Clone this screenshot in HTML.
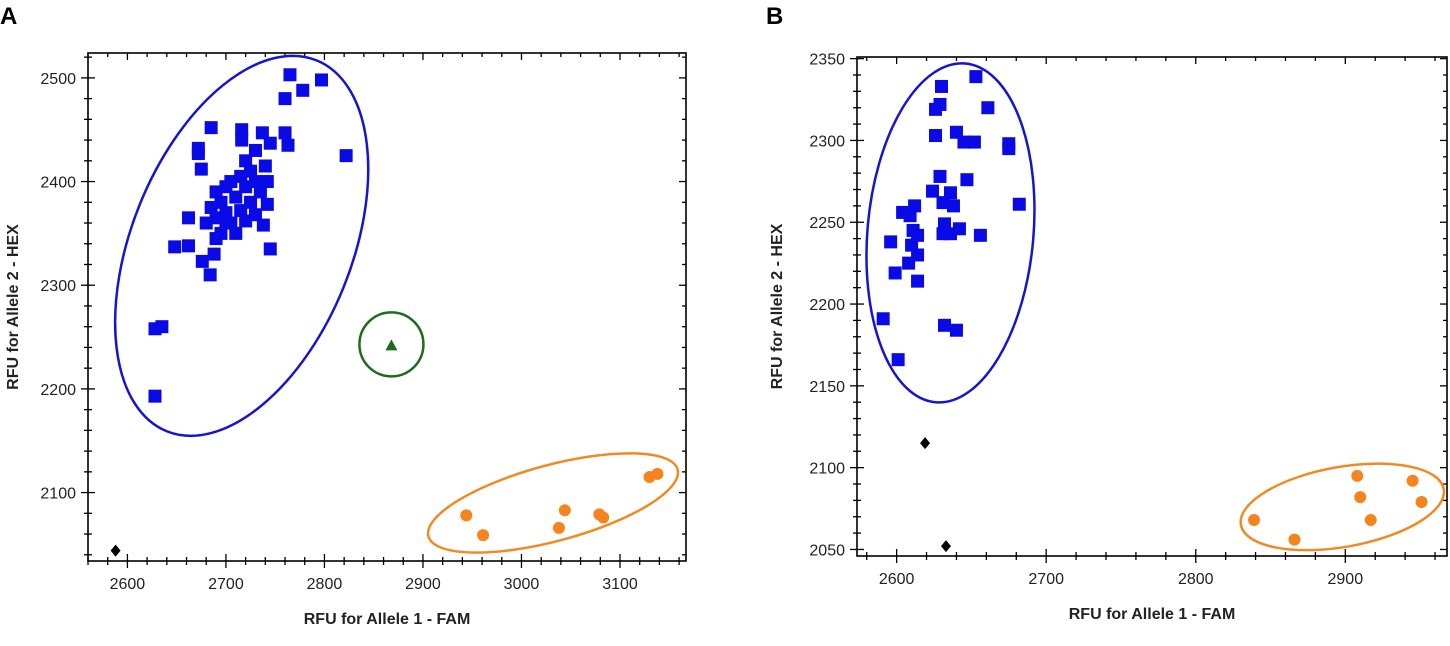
<!DOCTYPE html>
<html><head><meta charset="utf-8"><style>
body{margin:0;background:#fff;width:1450px;height:646px;overflow:hidden}
svg{display:block;font-family:"Liberation Sans",sans-serif}
</style></head><body>
<svg id="c" width="1450" height="646">
<text x="0" y="24" font-size="24" font-weight="bold">A</text>
<text x="766" y="24" font-size="24" font-weight="bold">B</text>
</svg>
<script>
// Panel A data
const aBlueX=[2765,2797,2778,2760,2685,2716,2737,2760,2672,2672,2763,2745,2822,2675,2716,2730,2720,2740,2725,2705,2715,2730,2742,2700,2690,2720,2735,2695,2710,2725,2742,2685,2700,2715,2730,2690,2705,2720,2738,2662,2680,2745,2648,2662,2690,2695,2688,2676,2684,2628,2635,2628,2700,2710];
const aBlueY=[2503,2498,2488,2480,2452,2450,2447,2447,2432,2427,2435,2437,2425,2412,2440,2430,2420,2415,2410,2400,2405,2400,2400,2395,2390,2395,2390,2380,2385,2380,2378,2375,2370,2372,2368,2365,2360,2362,2358,2365,2360,2335,2337,2338,2345,2350,2330,2323,2310,2258,2260,2193,2360,2350];
const aOrangeX=[2944,2961,3038,3044,3079,3083,3130,3138];
const aOrangeY=[2078,2059,2066,2083,2079,2076,2115,2118];
const aGreenX=[2868];const aGreenY=[2242];
const aBlackX=[2588];const aBlackY=[2044];
const aXTicks=[2600,2700,2800,2900,3000,3100];
const aYTicks=[2100,2200,2300,2400,2500];
// Panel B data
const bBlueX=[2653,2630,2629,2626,2661,2626,2640,2645,2652,2675,2675,2629,2647,2624,2636,2631,2638,2682,2604,2612,2609,2611,2614,2632,2631,2636,2642,2656,2596,2610,2614,2608,2599,2614,2591,2632,2640,2601];
const bBlueY=[2339,2333,2322,2319,2320,2303,2305,2299,2299,2298,2295,2278,2276,2269,2268,2262,2260,2261,2256,2260,2254,2245,2242,2249,2243,2243,2246,2242,2238,2236,2230,2225,2219,2214,2191,2187,2184,2166];
const bOrangeX=[2839,2866,2908,2910,2917,2945,2951];
const bOrangeY=[2068,2056,2095,2082,2068,2092,2079];
const bBlackX=[2619,2633];const bBlackY=[2115,2052];
const bXTicks=[2600,2700,2800,2900];
const bYTicks=[2050,2100,2150,2200,2250,2300,2350];

const NS="http://www.w3.org/2000/svg";
const svg=document.getElementById('c');
function mk(tag,attrs,parent){const e=document.createElementNS(NS,tag);for(const k in attrs)e.setAttribute(k,attrs[k]);(parent||svg).appendChild(e);return e;}

function panel(p){
  const g=mk('g',{});
  
  
  const sx=v=>p.L+(v-p.x0)/(p.x1-p.x0)*(p.R-p.L);
  const sy=v=>p.B-(v-p.y0)/(p.y1-p.y0)*(p.B-p.T);
  for(let v=Math.ceil(p.x0/p.xm)*p.xm;v<=p.x1;v+=p.xm){
    const major=v%p.xstep===0;const x=sx(v);const l=major?7:4;
    mk('line',{x1:x,x2:x,y1:p.B-l,y2:p.B+l,stroke:'#000','stroke-width':1.3},g);
    mk('line',{x1:x,x2:x,y1:p.T,y2:p.T+l,stroke:'#000','stroke-width':1.3},g);
  }
  for(let v=Math.ceil(p.y0/p.ym)*p.ym;v<=p.y1;v+=p.ym){
    const major=v%p.ystep===0;const y=sy(v);const l=major?7:4;
    mk('line',{x1:p.L-l,x2:p.L+l,y1:y,y2:y,stroke:'#000','stroke-width':1.3},g);
    mk('line',{x1:p.R-l,x2:p.R,y1:y,y2:y,stroke:'#000','stroke-width':1.3},g);
  }
  const fr=mk('rect',{x:p.L,y:p.T,width:p.R-p.L,height:p.B-p.T,fill:'none',stroke:'#000','stroke-width':1.6},g);
  
  
  p.xt.forEach(v=>{const t=mk('text',{x:sx(v),y:p.B+28,'font-size':16,fill:'#222','text-anchor':'middle'},g);t.textContent=v;
    
    });
  p.yt.forEach(v=>{const t=mk('text',{x:p.L-12,y:sy(v)+6,'font-size':16,fill:'#222','text-anchor':'end'},g);t.textContent=v;
    
    });
  const xt=mk('text',{x:(p.L+p.R)/2,y:p.B+63,'font-size':16,'font-weight':'bold',fill:'#222','text-anchor':'middle'},g);
  xt.textContent='RFU for Allele 1 - FAM';
  
  
  const yt=mk('text',{x:0,y:0,'font-size':16,'font-weight':'bold',fill:'#222','text-anchor':'middle',transform:`translate(${p.ytx},${(p.T+p.B)/2}) rotate(-90)`},g);
  yt.textContent='RFU for Allele 2 - HEX';
  
  
  p.ell.forEach(e=>{const el=mk('ellipse',{cx:sx(e.cx),cy:sy(e.cy),rx:e.rx,ry:e.ry,fill:'none',stroke:e.c,'stroke-width':2.5,transform:`rotate(${e.rot} ${sx(e.cx)} ${sy(e.cy)})`},g);
    
    });
  p.blueX.forEach((v,i)=>{const r=mk('rect',{x:sx(v)-6.5,y:sy(p.blueY[i])-6.5,width:13,height:13,fill:'#0a0ae6'},g);
    
    });
  p.orX.forEach((v,i)=>{const c=mk('circle',{cx:sx(v),cy:sy(p.orY[i]),r:6,fill:'#f5841f'},g);
    
    });
  p.bkX.forEach((v,i)=>{const x=sx(v),y=sy(p.bkY[i]);const d=mk('polygon',{points:`${x},${y-6} ${x+5},${y} ${x},${y+6} ${x-5},${y}`,fill:'#000'},g);
    
    });
  (p.grX||[]).forEach((v,i)=>{const x=sx(v),y=sy(p.grY[i]);const t=mk('polygon',{points:`${x},${y-6} ${x+6},${y+5} ${x-6},${y+5}`,fill:'#1a6e1a'},g);
    
    });
}

panel({name:'panel-a-chart',L:88,R:686,T:53,B:561,x0:2560,x1:3167,y0:2034,y1:2524,xm:20,xstep:100,ym:20,ystep:100,
  xt:aXTicks,yt:aYTicks,ytx:18,blueX:aBlueX,blueY:aBlueY,orX:aOrangeX,orY:aOrangeY,bkX:aBlackX,bkY:aBlackY,grX:aGreenX,grY:aGreenY,
  ell:[{cx:2716,cy:2338,rx:110,ry:200,rot:22,c:'#1515d0',n:'blue-cluster-ellipse'},
       {cx:3032,cy:2090,rx:129,ry:38,rot:-15,c:'#f08a24',n:'orange-cluster-ellipse'},
       {cx:2868,cy:2243,rx:32,ry:32,rot:0,c:'#1f6b1f',n:'green-cluster-circle'}]});
panel({name:'panel-b-chart',L:857,R:1447,T:57,B:556,x0:2573.5,x1:2968,y0:2046,y1:2351,xm:20,xstep:100,ym:10,ystep:50,
  xt:bXTicks,yt:bYTicks,ytx:782,blueX:bBlueX,blueY:bBlueY,orX:bOrangeX,orY:bOrangeY,bkX:bBlackX,bkY:bBlackY,
  ell:[{cx:2636,cy:2243.5,rx:83,ry:170,rot:5,c:'#1515d0',n:'blue-cluster-ellipse'},
       {cx:2898,cy:2076,rx:103,ry:40,rot:-10,c:'#f08a24',n:'orange-cluster-ellipse'}]});
</script>
</body></html>
